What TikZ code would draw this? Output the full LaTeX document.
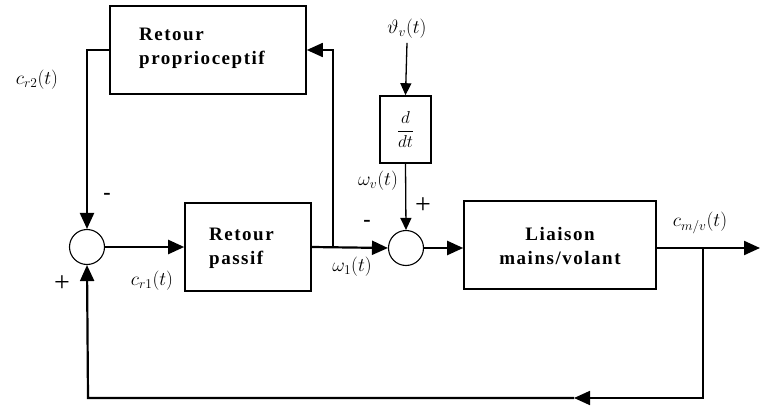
\documentclass[tikz,border=0pt]{standalone}
\usepackage{fontspec}
\setmainfont{Liberation Serif}
\newfontfamily\boxfont[LetterSpace=8]{Liberation Serif}
\usetikzlibrary{arrows.meta}
\newcommand\mylbl[1]{\scalebox{1.12}{$#1$}}
\begin{document}
\begin{tikzpicture}[x=1pt,y=-1pt,
  blk/.style={draw,line width=1.6pt,rectangle,inner sep=0pt},
  btxt/.style={inner sep=0pt,font=\fontsize{19}{24}\selectfont\boxfont\bfseries},
  sum/.style={draw,line width=1.1pt,circle,minimum size=35pt,inner sep=0pt},
  arr/.style={line width=2.2pt,-{Triangle[length=16pt,width=14pt]}},
  thin/.style={line width=1.3pt,-{Triangle[length=12pt,width=11pt]}},
  lab/.style={font=\fontsize{17.28}{21}\selectfont,inner sep=0pt},
  sgn/.style={font=\fontsize{28}{30}\selectfont,inner sep=0pt},
  msgn/.style={font=\fontsize{22}{24}\selectfont\bfseries,inner sep=0pt}]
\useasboundingbox (0,0) rectangle (761,412);
% blocks
\node[blk,minimum width=196pt,minimum height=88pt] (prop) at (208,50) {};
\node[btxt,align=left,anchor=west] (proptxt) at (139,48.5) {Retour\\proprioceptif};
\node[blk,minimum width=126pt,minimum height=88pt] (passif) at (248,247) {};
\node[btxt,align=left,anchor=west] (passiftxt) at (209,248) {Retour\\passif};
\node[blk,minimum width=192pt,minimum height=88pt] (liaison) at (560,245) {};
\node[btxt,align=center] (liaisontxt) at (560,245.5) {Liaison\\mains/volant};
\node[blk,minimum width=51pt,minimum height=67pt,font=\fontsize{16}{18}\selectfont] (deriv) at (405.5,129.5) {$\displaystyle\frac{d}{dt}$};
% summing junctions
\node[sum] (s1) at (87,247) {};
\node[sum] (s2) at (406,248) {};
% labels
\node[lab] (theta) at (407,29) {\mylbl{\vartheta_{v}(t)}};
\node[lab] (omv) at (378,181) {\mylbl{\omega_{v}(t)}};
\node[lab] (cr2) at (37,80) {\mylbl{c_{r2}(t)}};
\node[lab] (cr1) at (152,281) {\mylbl{c_{r1}(t)}};
\node[lab] (om1) at (352,267) {\mylbl{\omega_{1}(t)}};
\node[lab] (cmv) at (700,223) {\mylbl{c_{m/v}(t)}};
\node[msgn] (m1) at (107,196) {-};
\node[sgn] (p1) at (62,284) {+};
\node[msgn] (m2) at (367,223) {-};
\node[sgn] (p2) at (423,206) {+};
% coordinates
\coordinate (b1) at (333,247);
\coordinate (b2) at (703,248);
\coordinate (out) at (760,248);
\coordinate (br) at (703,398);
\coordinate (bm) at (574,398);
\coordinate (bl) at (88,398);
% connectors
\draw[arr] (prop.west) -| (s1.north);
\draw[arr] (s1.east) -- (passif.west);
\draw[arr] (passif.east) -- (s2.west);
\draw[arr,line width=1.8pt] (b1) |- (prop.east);
\draw[thin] (theta.south) ++(0,4) -- (deriv.north);
\draw[thin] (deriv.south) -- (s2.north);
\draw[arr] (s2.east) -- (liaison.west |- s2.east);
\draw[arr] (liaison.east |- b2) -- (out);
\draw[line width=1.8pt,-{Triangle[length=16pt,width=14pt]}] (b2) -- (br) -- (bm);
\draw[arr] (bm) -- (bl) -- (s1.south);
\end{tikzpicture}
\end{document}
